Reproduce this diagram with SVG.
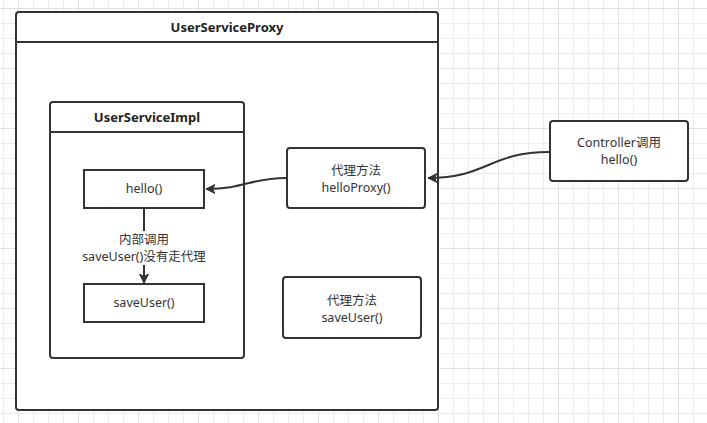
<svg xmlns="http://www.w3.org/2000/svg" width="707" height="423" viewBox="0 0 707 423">
<defs>
<pattern id="minor" x="3" y="8" width="15" height="15" patternUnits="userSpaceOnUse">
<path d="M0.5 0V15M0 0.5H15" fill="none" stroke="#ececec" stroke-width="1"/>
</pattern>
<pattern id="major" x="18" y="8" width="60" height="60" patternUnits="userSpaceOnUse">
<path d="M0.5 0V60M0 0.5H60" fill="none" stroke="#e0e0e0" stroke-width="1"/>
</pattern>
<marker id="arr" markerWidth="10" markerHeight="10" refX="9" refY="5" orient="auto" markerUnits="userSpaceOnUse">
<path d="M0,0.5 L9,5 L0,9.5 L2.5,5 Z" fill="#333" stroke="#333" stroke-width="1"/>
</marker>
</defs>
<style>
.box{fill:#fff;stroke:#333;stroke-width:2}
.t{font-family:"Noto Sans","Noto Sans CJK SC",sans-serif;font-size:12.5px;fill:#333;text-anchor:middle}
.b{font-weight:bold;font-size:13px;fill:#222}
.edge{fill:none;stroke:#333;stroke-width:2}
</style>
<rect width="707" height="423" fill="#fff"/>
<rect width="707" height="423" fill="url(#minor)"/>
<rect width="707" height="423" fill="url(#major)"/>
<g id="UserServiceProxy">
<rect class="box" x="16" y="12" width="422" height="398" rx="3"/>
<line x1="16" y1="42" x2="438" y2="42" stroke="#333" stroke-width="2"/>
<text class="t b" x="227" y="32">UserServiceProxy</text>
</g>
<g id="UserServiceImpl">
<rect class="box" x="50" y="102" width="194" height="256" rx="3"/>
<line x1="50" y1="132" x2="244" y2="132" stroke="#333" stroke-width="2"/>
<text class="t b" x="147" y="122">UserServiceImpl</text>
</g>
<g id="hello">
<rect class="box" x="84" y="170" width="120" height="38"/>
<text class="t" x="144" y="193">hello()</text>
</g>
<g id="saveUser">
<rect class="box" x="84" y="284" width="120" height="38"/>
<text class="t" x="144" y="307">saveUser()</text>
</g>
<g id="helloProxy">
<rect class="box" x="287" y="148" width="138" height="60" rx="3"/>
<text class="t" x="356" y="175">代理方法</text>
<text class="t" x="356" y="192">helloProxy()</text>
</g>
<g id="controller">
<rect class="box" x="550" y="121" width="138" height="60" rx="3"/>
<text class="t" x="619" y="147">Controller调用</text>
<text class="t" x="619" y="164">hello()</text>
</g>
<g id="saveUserProxy">
<rect class="box" x="283" y="277" width="138" height="61" rx="3"/>
<text class="t" x="352" y="305">代理方法</text>
<text class="t" x="352" y="322">saveUser()</text>
</g>
<g id="connectors">
<path class="edge" d="M549,152 C490,152 487,178 428,178" marker-end="url(#arr)"/>
<path class="edge" d="M286,178 C250,178 245,189 206,189" marker-end="url(#arr)"/>
<path class="edge" d="M144,209 V283" marker-end="url(#arr)"/>
<rect x="78" y="231" width="132" height="34" fill="#fff"/>
<text class="t" x="144" y="244">内部调用</text>
<text class="t" x="144" y="261">saveUser()没有走代理</text>
</g>
</svg>
